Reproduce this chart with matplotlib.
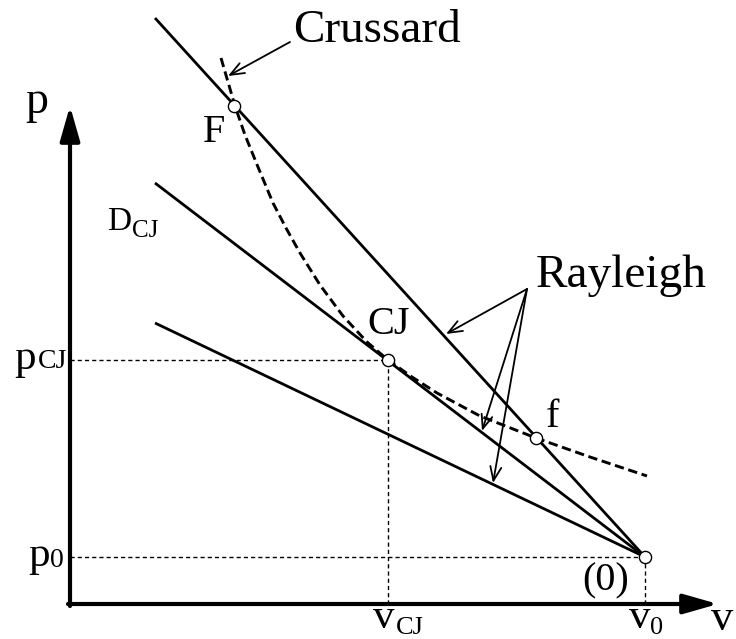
import matplotlib
matplotlib.use("Agg")
import matplotlib.pyplot as plt

plt.rcParams['font.family'] = ['Liberation Serif', 'DejaVu Serif']

# ---- data (arbitrary units; origin = axes corner) ----
v0, p0 = 575, 47            # initial state (0)
vCJ, pCJ = 318, 244         # Chapman-Jouguet point
F_pt = (164, 498)           # strong intersection F
f_pt = (466, 166)           # weak intersection f

# Crussard (Hugoniot) curve points
crussard_v = [151, 158, 165, 175, 188, 203, 216, 230, 250, 273, 297, 318,
              342, 367, 410, 466, 520, 577]
crussard_p = [546, 522, 498, 469, 437, 401, 376, 351, 319, 288, 262, 244,
              227, 211, 188, 166, 147, 128]

# Rayleigh lines: start (left end) and all end at (0)
rayleigh_start_v = 85
rayleigh_start_p = [586, 421, 281]

# axis extents (arrow tips)
v_axis_end = 648
p_axis_end = 498

# annotation arrows
crussard_lbl = (223, 562)
crussard_from = (220, 562)
crussard_to = (158, 528)
rayleigh_lbl = (466, 317)
rayleigh_from = (457, 315)
rayleigh_to = [(376, 270), (412, 173), (423, 121)]

fig = plt.figure(figsize=(7.36, 6.39), dpi=100)
ax = fig.add_axes([0, 0, 1, 1])
ax.set_xlim(-70, 666)
ax.set_ylim(-35, 604)
ax.axis('off')

# axes with arrows
ax.annotate('', xy=(v_axis_end, 0), xytext=(-2, 0),
            arrowprops=dict(arrowstyle='-|>,head_length=21,head_width=6',
                            mutation_scale=1, lw=3, color='k',
                            shrinkA=0, shrinkB=0))
ax.annotate('', xy=(0, p_axis_end), xytext=(0, -2),
            arrowprops=dict(arrowstyle='-|>,head_length=21,head_width=6',
                            mutation_scale=1, lw=3, color='k',
                            shrinkA=0, shrinkB=0))

# helper dashed lines
guide = dict(color='k', lw=1.0, linestyle=(0, (3, 2.2)))
ax.plot([0, vCJ], [pCJ, pCJ], **guide)
ax.plot([vCJ, vCJ], [0, pCJ], **guide)
ax.plot([0, v0], [p0, p0], **guide)
ax.plot([v0, v0], [0, p0], **guide)

# Rayleigh lines
for ps in rayleigh_start_p:
    ax.plot([rayleigh_start_v, v0], [ps, p0], color='k', lw=2.0,
            solid_capstyle='butt')

# Crussard curve
ax.plot(crussard_v, crussard_p, color='k', lw=2.1,
        linestyle=(0, (3.2, 1.6)))

# points
pts_v = [v0, vCJ, F_pt[0], f_pt[0]]
pts_p = [p0, pCJ, F_pt[1], f_pt[1]]
ax.plot(pts_v, pts_p, 'o', ms=8.8, mfc='white', mec='k', mew=1.0,
        zorder=5, linestyle='none')

# annotation arrows
arr = dict(arrowstyle='->,head_length=0.5,head_width=0.2', color='k',
           lw=1.3, shrinkA=0, shrinkB=0, mutation_scale=20)
ax.annotate('', xy=crussard_to, xytext=crussard_from, arrowprops=arr)
for tgt in rayleigh_to:
    ax.annotate('', xy=tgt, xytext=rayleigh_from, arrowprops=arr)

# texts
def txt(x, y, s, size):
    ax.text(x, y, s, fontsize=size, ha='left', va='baseline')

txt(*crussard_lbl, 'Crussard', 34)
txt(*rayleigh_lbl, 'Rayleigh', 34)
txt(-45, 491, 'p', 33)
txt(641, -26, 'v', 32)
txt(133, 462, 'F', 29)
txt(297, 270, 'CJ', 29)
txt(476, 177, 'f', 29)
txt(512, 14, '(0)', 29)
txt(37, 374, 'D', 24)
txt(62, 367, 'CJ', 18)
txt(-56, 235, 'p', 31)
txt(-32, 236, 'CJ', 20)
txt(-42, 38, 'p', 31)
txt(-20, 37, '0', 20)
txt(303, -24, 'v', 31)
txt(326, -30, 'CJ', 19)
txt(559, -24, 'v', 31)
txt(580, -30, '0', 19)

fig.savefig('out.png', dpi=100)
